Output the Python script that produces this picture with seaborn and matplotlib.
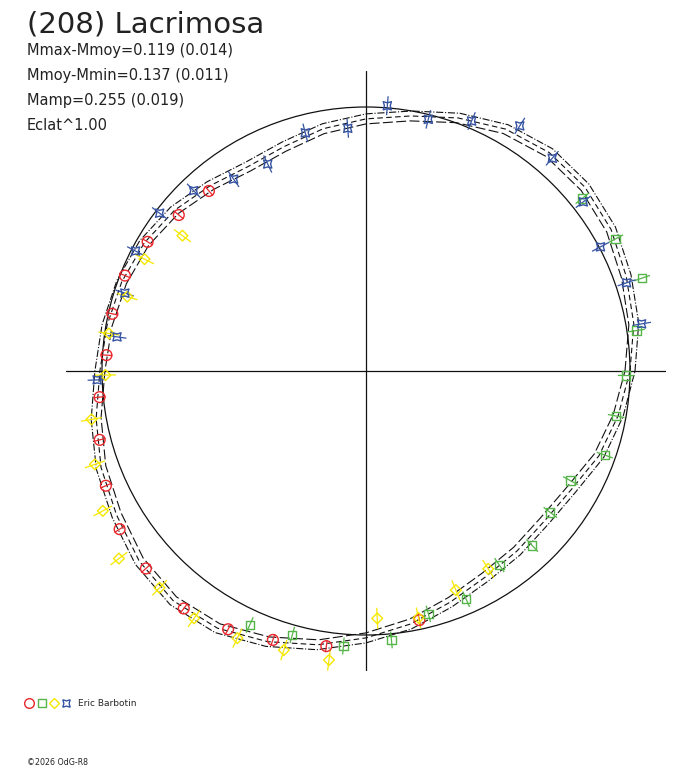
import numpy as np
import pandas as pd
import seaborn as sns
import matplotlib.pyplot as plt
from matplotlib.collections import LineCollection
from matplotlib.lines import Line2D
from matplotlib.legend_handler import HandlerTuple

# rotational phase (deg) and relative brightness (mean = 1.0), one list per session
red_phase = [131.1, 140.2, 149.4, 158.4, 167.3, 176.5, 185.6, 194.5, 203.8, 212.7,
             221.9, 232.5, 241.9, 250.9, 261.8, 282.1]
red_flux = [0.905, 0.923, 0.961, 0.982, 0.985, 0.985, 1.014, 1.042, 1.077, 1.109,
            1.120, 1.134, 1.109, 1.078, 1.053, 0.965]

green_phase = [245.4, 254.4, 265.3, 275.4, 284.4, 293.7, 304.5, 313.6, 322.5, 331.8,
               340.6, 349.8, 359.0, 8.5, 18.6, 27.9, 38.6]
green_flux = [1.058, 1.038, 1.045, 1.023, 0.950, 0.944, 0.892, 0.913, 0.880, 0.879,
              0.959, 0.963, 0.986, 1.036, 1.103, 1.070, 1.048]

yellow_phase = [143.6, 153.2, 162.7, 171.7, 180.9, 190.0, 199.0, 208.0, 217.2, 226.4,
                235.2, 244.3, 253.6, 262.7, 272.6, 282.0, 292.3, 301.7]
yellow_flux = [0.864, 0.940, 0.947, 0.984, 0.987, 1.056, 1.086, 1.129, 1.175, 1.134,
               1.141, 1.123, 1.102, 1.104, 0.938, 0.956, 0.897, 0.881]

blue_phase = [9.7, 18.7, 27.9, 37.9, 48.8, 57.9, 67.1, 76.1, 85.4, 94.3, 104.3, 115.4,
              124.6, 133.7, 142.6, 152.5, 162.1, 172.2, 181.9]
blue_flux = [1.059, 1.042, 1.005, 1.043, 1.071, 1.096, 1.028, 0.982, 1.008, 0.922, 0.931,
             0.868, 0.883, 0.945, 0.984, 0.984, 0.960, 0.952, 1.019]

# error per session (relative brightness)
red_err, green_err, yellow_err, blue_err = 0.023, 0.032, 0.040, 0.036

# fitted lightcurve, sampled every 10 deg
fit_phase = [0, 10, 20, 30, 40, 50, 60, 70, 80, 90, 100, 110, 120, 130, 140, 150, 160, 170,
             180, 190, 200, 210, 220, 230, 240, 250, 260, 270, 280, 290, 300, 310, 320, 330, 340, 350]
fit_flux = [1.000, 1.030, 1.049, 1.072, 1.083, 1.080, 1.058, 1.020, 0.981, 0.955, 0.932, 0.905,
            0.894, 0.917, 0.947, 0.970, 0.985, 0.996, 1.008, 1.038, 1.068, 1.091, 1.121, 1.136,
            1.125, 1.091, 1.053, 1.011, 0.973, 0.932, 0.902, 0.890, 0.883, 0.898, 0.939, 0.970]
fit_sigma = 0.019

sessions = [
    ('red', red_phase, red_flux, red_err, '#e8262b', 'o', 60),
    ('green', green_phase, green_flux, green_err, '#55b548', 's', 36),
    ('yellow', yellow_phase, yellow_flux, yellow_err, '#f5e800', 'D', 30),
    ('blue', blue_phase, blue_flux, blue_err, '#3553a3', (4, 1, 45), 70),
]

sns.set_style('white')
plt.rcParams['font.family'] = ['DejaVu Sans']

fig = plt.figure(figsize=(6.88, 7.68), dpi=100)
ax = fig.add_axes([66 / 688, 97 / 768, 600 / 688, 600 / 768])
lim = 300 / 264
ax.set_xlim(-lim, lim)
ax.set_ylim(-lim, lim)
ax.axis('off')

ax.axhline(0, color='#111111', lw=0.9)
ax.axvline(0, color='#111111', lw=0.9)
ax.add_patch(plt.Circle((0, 0), 1.0, fill=False, color='#111111', lw=0.9))

# fit and +/- sigma
ang = np.deg2rad(np.append(fit_phase, fit_phase[0]))
fr = np.append(fit_flux, fit_flux[0])
for off, ls in [(0.0, (0, (5, 3))), (fit_sigma, '-.'), (-fit_sigma, (0, (9, 3)))]:
    r = fr + off
    sns.lineplot(x=r * np.cos(ang), y=r * np.sin(ang), sort=False, estimator=None,
                 color='#111111', lw=0.8, linestyle=ls, ax=ax)

handles = []
for name, ph, fl, err, col, mk, size in sessions:
    df = pd.DataFrame({'phase': ph, 'flux': fl})
    a = np.deg2rad(df['phase'])
    df['x'] = df['flux'] * np.cos(a)
    df['y'] = df['flux'] * np.sin(a)
    segs = [[((f - err) * np.cos(t), (f - err) * np.sin(t)),
             ((f + err) * np.cos(t), (f + err) * np.sin(t))] for f, t in zip(df['flux'], a)]
    ax.add_collection(LineCollection(segs, colors=col, linewidths=0.9))
    sns.scatterplot(data=df, x='x', y='y', marker=mk, s=size, facecolors='none',
                    edgecolors=col, linewidth=1.0, ax=ax, legend=False, zorder=3)
    handles.append(Line2D([], [], marker=mk, ls='', mfc='none', mec=col, mew=1.0,
                          ms=np.sqrt(size) * 0.9))

fig.text(27 / 688, 1 - 33 / 768, '(208) Lacrimosa', fontsize=21, color='#222222', va='baseline')
info = ['Mmax-Mmoy=0.119 (0.014)', 'Mmoy-Mmin=0.137 (0.011)', 'Mamp=0.255 (0.019)', 'Eclat^1.00']
for i, line in enumerate(info):
    fig.text(27 / 688, 1 - (55 + 25 * i) / 768, line, fontsize=10.5, color='#222222',
             va='baseline')

fig.legend([tuple(handles)], ['Eric Barbotin'], handler_map={tuple: HandlerTuple(ndivide=None, pad=0)},
           loc='center left', bbox_to_anchor=(23 / 688, 1 - 704 / 768), frameon=False,
           fontsize=6.5, handlelength=5.5, handletextpad=0.6, borderpad=0, borderaxespad=0,
           numpoints=1)

fig.text(27 / 688, 1 - 765 / 768, '©2026 OdG-R8', fontsize=5.7, color='#222222', va='baseline')

fig.savefig('out.png', dpi=100)
